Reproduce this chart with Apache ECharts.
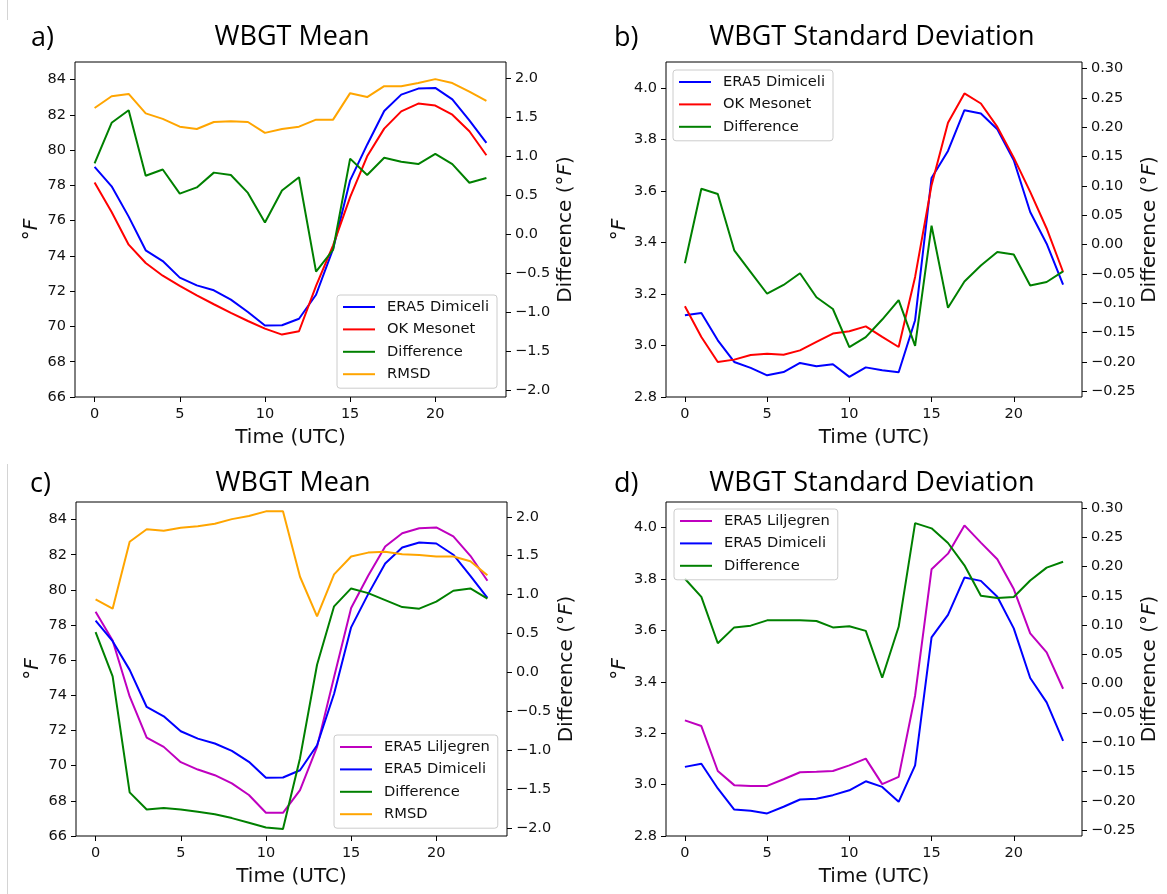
<!DOCTYPE html>
<html>
<head>
<meta charset="utf-8">
<script src="https://cdn.jsdelivr.net/npm/echarts@6/dist/echarts.min.js"></script>
<style>
  html, body { margin: 0; padding: 0; background: #fff; }
  #chart { width: 1167px; height: 894px; }
</style>
</head>
<body>
<div id="chart"></div>
<script>
var hours = [0, 1, 2, 3, 4, 5, 6, 7, 8, 9, 10, 11, 12, 13, 14, 15, 16, 17, 18, 19, 20, 21, 22, 23];

// a) mean, ERA5 Dimiceli vs OK Mesonet
var aDimiceli = [79.05, 77.95, 76.23, 74.32, 73.71, 72.77, 72.33, 72.05, 71.52, 70.82, 70.05, 70.07, 70.44, 71.8, 74.4, 78.29, 80.31, 82.22, 83.15, 83.49, 83.53, 82.88, 81.69, 80.41];
var aMesonet = [78.16, 76.49, 74.64, 73.6, 72.88, 72.3, 71.77, 71.26, 70.77, 70.31, 69.88, 69.54, 69.73, 72.3, 74.6, 77.34, 79.65, 81.22, 82.2, 82.64, 82.53, 82.01, 81.07, 79.71];
var aDiff = [0.91, 1.43, 1.59, 0.75, 0.83, 0.52, 0.60, 0.79, 0.76, 0.53, 0.15, 0.56, 0.73, -0.48, -0.20, 0.97, 0.76, 0.98, 0.93, 0.90, 1.03, 0.90, 0.66, 0.72];
var aRmsd = [1.62, 1.77, 1.80, 1.55, 1.48, 1.38, 1.35, 1.44, 1.45, 1.44, 1.30, 1.35, 1.38, 1.47, 1.47, 1.81, 1.76, 1.90, 1.90, 1.94, 1.99, 1.94, 1.83, 1.71];

// b) standard deviation, ERA5 Dimiceli vs OK Mesonet
var bDimiceli = [3.117, 3.126, 3.020, 2.936, 2.913, 2.884, 2.897, 2.932, 2.919, 2.927, 2.878, 2.915, 2.904, 2.896, 3.098, 3.65, 3.755, 3.913, 3.90, 3.839, 3.719, 3.518, 3.395, 3.236];
var bMesonet = [3.152, 3.033, 2.936, 2.945, 2.963, 2.968, 2.964, 2.981, 3.014, 3.046, 3.055, 3.074, 3.033, 2.994, 3.266, 3.622, 3.864, 3.978, 3.939, 3.848, 3.729, 3.596, 3.454, 3.285];
var bDiff = [-0.032, 0.095, 0.086, -0.010, -0.047, -0.084, -0.069, -0.049, -0.090, -0.110, -0.175, -0.158, -0.128, -0.095, -0.173, 0.032, -0.108, -0.063, -0.036, -0.013, -0.017, -0.070, -0.064, -0.046];

// c) mean, ERA5 Liljegren vs ERA5 Dimiceli
var cLiljegren = [78.76, 77.12, 73.94, 71.6, 71.07, 70.2, 69.78, 69.46, 68.99, 68.33, 67.32, 67.32, 68.61, 71.07, 75.04, 78.97, 80.8, 82.47, 83.22, 83.51, 83.55, 83.04, 81.94, 80.52];
var cDimiceli = [78.25, 77.08, 75.45, 73.34, 72.81, 71.96, 71.54, 71.26, 70.84, 70.22, 69.31, 69.33, 69.74, 71.16, 74.09, 77.87, 79.76, 81.5, 82.41, 82.7, 82.64, 82.0, 80.8, 79.54];
var cDiff = [0.52, -0.05, -1.54, -1.76, -1.74, -1.76, -1.79, -1.82, -1.87, -1.93, -1.99, -2.01, -1.10, 0.10, 0.85, 1.08, 1.02, 0.93, 0.84, 0.82, 0.91, 1.05, 1.08, 0.95];
var cRmsd = [0.94, 0.82, 1.68, 1.84, 1.82, 1.86, 1.88, 1.91, 1.97, 2.01, 2.07, 2.07, 1.23, 0.72, 1.26, 1.49, 1.54, 1.55, 1.52, 1.51, 1.49, 1.49, 1.43, 1.25];

// d) standard deviation, ERA5 Liljegren vs ERA5 Dimiceli
var dLiljegren = [3.25, 3.228, 3.053, 2.998, 2.995, 2.995, 3.021, 3.048, 3.05, 3.053, 3.075, 3.101, 3.002, 3.03, 3.347, 3.838, 3.899, 4.009, 3.942, 3.877, 3.761, 3.589, 3.515, 3.373];
var dDimiceli = [3.069, 3.081, 2.985, 2.903, 2.898, 2.888, 2.914, 2.942, 2.945, 2.959, 2.978, 3.013, 2.991, 2.933, 3.075, 3.573, 3.661, 3.806, 3.793, 3.731, 3.608, 3.415, 3.32, 3.17];
var dDiff = [0.179, 0.148, 0.069, 0.096, 0.099, 0.108, 0.108, 0.108, 0.107, 0.096, 0.098, 0.090, 0.010, 0.097, 0.274, 0.265, 0.240, 0.202, 0.150, 0.146, 0.148, 0.176, 0.198, 0.208];

// tick labels
var hourTicks = [0, 5, 10, 15, 20];
var meanTicks = [66, 68, 70, 72, 74, 76, 78, 80, 82, 84];
var meanDiffTicks = [-2.0, -1.5, -1.0, -0.5, 0.0, 0.5, 1.0, 1.5, 2.0];
var sdTicks = [2.8, 3.0, 3.2, 3.4, 3.6, 3.8, 4.0];
var sdDiffTicks = [-0.25, -0.20, -0.15, -0.10, -0.05, 0.00, 0.05, 0.10, 0.15, 0.20, 0.25, 0.30];

var titles = ['WBGT Mean', 'WBGT Standard Deviation', 'WBGT Mean', 'WBGT Standard Deviation'];

(function () {
  var chart = echarts.init(document.getElementById('chart'));
  var mpl = 'DejaVu Sans';
  var ttl = 'Open Sans';
  var ink = '#111';

  var grids = [
    { left: 75, top: 62, width: 431, height: 335 },
    { left: 666, top: 62, width: 416, height: 335 },
    { left: 76, top: 502, width: 431, height: 334 },
    { left: 666, top: 502, width: 416, height: 334 }
  ];
  grids.forEach(function (g) {
    g.show = true;
    g.borderColor = '#000';
    g.borderWidth = 1;
    g.backgroundColor = 'transparent';
    g.outerBoundsMode = 'none';
  });

  function fmt(d) {
    return function (v) {
      var s = Math.abs(v).toFixed(d);
      return (v < -1e-9 ? '\u2212' : '') + s;
    };
  }

  function xAxis(i) {
    return {
      type: 'value', gridIndex: i, min: -1.15, max: 24.15,
      name: 'Time (UTC)', nameLocation: 'middle', nameGap: 31,
      nameTextStyle: { fontFamily: mpl, fontSize: 20, color: ink },
      axisLine: { show: false, onZero: false },
      axisTick: { show: true, inside: false, length: 5, lineStyle: { color: '#000' }, customValues: hourTicks },
      axisLabel: { fontFamily: mpl, fontSize: 14.5, color: ink, margin: 10, customValues: hourTicks },
      splitLine: { show: false }
    };
  }

  function yAxis(i, right, lo, hi, ticks, dec) {
    var ax = {
      type: 'value', gridIndex: i, min: lo, max: hi,
      position: right ? 'right' : 'left',
      nameLocation: 'middle', nameRotate: 90,
      axisLine: { show: false, onZero: false },
      axisTick: { show: true, inside: false, length: 5, lineStyle: { color: '#000' }, customValues: ticks },
      axisLabel: { fontFamily: mpl, fontSize: 14.5, color: ink, margin: 9, customValues: ticks, formatter: fmt(dec), showMinLabel: true, showMaxLabel: true },
      splitLine: { show: false },
      nameTextStyle: { fontFamily: mpl, fontSize: 20, color: ink, rich: { i: { fontFamily: mpl, fontSize: 20, fontStyle: 'italic', color: ink } } }
    };
    if (right) {
      ax.name = 'Difference (\u00b0{i|F})';
      ax.nameGap = 50;
    } else {
      ax.name = '\u00b0{i|F}';
      ax.nameGap = 33;
    }
    return ax;
  }

  function line(name, vals, color, g, right) {
    return {
      name: name, type: 'line', xAxisIndex: g, yAxisIndex: g * 2 + (right ? 1 : 0),
      data: hours.map(function (h, k) { return [h, vals[k]]; }),
      symbol: 'none', color: color, lineStyle: { width: 2, color: color },
      silent: true
    };
  }

  function legend(names, left, top) {
    return {
      data: names, left: left, top: top, orient: 'vertical', selectedMode: false,
      icon: 'path://M0,0H32V2H0Z', itemWidth: 32, itemHeight: 2, itemGap: 6.4,
      padding: [4, 8, 6, 6],
      backgroundColor: 'rgba(255,255,255,0.8)', borderColor: '#cccccc', borderWidth: 1, borderRadius: 3,
      textStyle: { fontFamily: mpl, fontSize: 14.7, color: ink, lineHeight: 16, padding: [0, 0, 0, 7] }
    };
  }

  function title(text, left, top, center) {
    var t = { text: text, left: left, top: top, padding: 0,
      textStyle: { fontFamily: ttl, fontSize: 27, fontWeight: 'normal', color: '#000', lineHeight: 30 } };
    if (center) t.textAlign = 'center';
    return t;
  }

  var blue = '#0000ff', red = '#ff0000', green = '#008000', orange = '#ffa500', magenta = '#bf00bf';

  var option = {
    animation: false,
    backgroundColor: '#fff',
    title: [
      title('a)', 31, 23), title(titles[0], 292, 22, true),
      title('b)', 614, 23), title(titles[1], 872, 22, true),
      title('c)', 30, 469), title(titles[2], 293, 468, true),
      title('d)', 614, 469), title(titles[3], 872, 468, true)
    ],
    grid: grids,
    xAxis: [xAxis(0), xAxis(1), xAxis(2), xAxis(3)],
    yAxis: [
      yAxis(0, false, 66, 85, meanTicks, 0), yAxis(0, true, -2.09, 2.21, meanDiffTicks, 1),
      yAxis(1, false, 2.8, 4.1, sdTicks, 1), yAxis(1, true, -0.26, 0.311, sdDiffTicks, 2),
      yAxis(2, false, 66, 85, meanTicks, 0), yAxis(2, true, -2.1, 2.19, meanDiffTicks, 1),
      yAxis(3, false, 2.8, 4.1, sdTicks, 1), yAxis(3, true, -0.26, 0.31, sdDiffTicks, 2)
    ],
    legend: [
      legend(['ERA5 Dimiceli', 'OK Mesonet', 'Difference', 'RMSD'], 337, 295),
      legend(['ERA5 Dimiceli', 'OK Mesonet', 'Difference'], 673, 70),
      legend(['ERA5 Liljegren', 'ERA5 Dimiceli', 'Difference', 'RMSD'], 334, 735),
      legend(['ERA5 Liljegren', 'ERA5 Dimiceli', 'Difference'], 674, 509)
    ],
    series: [
      line('ERA5 Dimiceli', aDimiceli, blue, 0, false),
      line('OK Mesonet', aMesonet, red, 0, false),
      line('Difference', aDiff, green, 0, true),
      line('RMSD', aRmsd, orange, 0, true),

      line('ERA5 Dimiceli', bDimiceli, blue, 1, false),
      line('OK Mesonet', bMesonet, red, 1, false),
      line('Difference', bDiff, green, 1, true),

      line('ERA5 Liljegren', cLiljegren, magenta, 2, false),
      line('ERA5 Dimiceli', cDimiceli, blue, 2, false),
      line('Difference', cDiff, green, 2, true),
      line('RMSD', cRmsd, orange, 2, true),

      line('ERA5 Liljegren', dLiljegren, magenta, 3, false),
      line('ERA5 Dimiceli', dDimiceli, blue, 3, false),
      line('Difference', dDiff, green, 3, true)
    ],
    graphic: [
      // faint crop edges left over from the composed figure
      { type: 'line', shape: { x1: 7.5, y1: 0, x2: 7.5, y2: 20 }, style: { stroke: '#d4d4d4', lineWidth: 1 } },
      { type: 'line', shape: { x1: 7.5, y1: 464, x2: 7.5, y2: 894 }, style: { stroke: '#d4d4d4', lineWidth: 1 } }
    ]
  };

  chart.setOption(option);
  window.addEventListener('resize', function () {
    chart.resize();
  });
})();
</script>
</body>
</html>
